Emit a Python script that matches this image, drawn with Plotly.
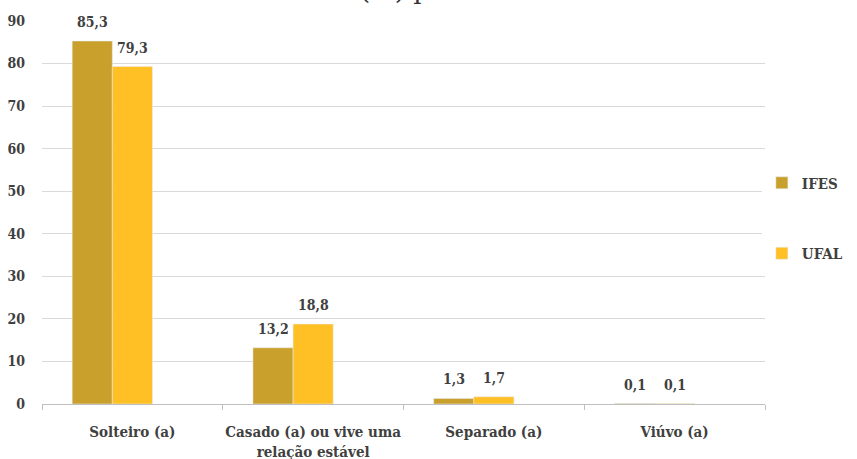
import plotly.graph_objects as go

categories = ["Solteiro (a)", "Casado (a) ou vive uma<br>relação estável", "Separado (a)", "Viúvo (a)"]
ifes = [85.3, 13.2, 1.3, 0.1]
ufal = [79.3, 18.8, 1.7, 0.1]
y_ticks = [0, 10, 20, 30, 40, 50, 60, 70, 80, 90]

FONT = "DejaVu Serif Condensed"
TXT = "#404040"

# bars occupy the left two thirds of each category slot
BAR_W = 0.222

def fmt(v):
    return f"{v:.1f}".replace(".", ",")

fig = go.Figure()
fig.add_trace(go.Bar(
    x=categories, y=ifes, name="IFES", marker_color="#C9A02C",
    width=BAR_W, offset=-0.333, legendgroup="a",
))
fig.add_trace(go.Bar(
    x=categories, y=ufal, name="UFAL", marker_color="#FFC025",
    width=BAR_W, offset=-0.111, legendgroup="b",
))

# value labels above each bar
for series, shift in ((ifes, -40), (ufal, 0)):
    for cat, v in zip(categories, series):
        fig.add_annotation(
            x=cat, y=v, text=fmt(v), showarrow=False,
            xanchor="center", yanchor="bottom", xshift=shift, yshift=9,
            font=dict(family=FONT, size=14, color=TXT, weight="bold"),
        )

fig.update_layout(
    width=857, height=459,
    margin=dict(l=42, r=92, t=21, b=55, autoexpand=False),
    plot_bgcolor="white", paper_bgcolor="white",
    barmode="overlay",
    font=dict(family=FONT, color=TXT),
    showlegend=True,
    legend=dict(xref="container", x=0.889, xanchor="left", y=0.62, yanchor="top",
                tracegroupgap=48,
                font=dict(family=FONT, size=15, color=TXT, weight="bold"),
                itemwidth=30),
    xaxis=dict(
        tickson="boundaries", ticks="outside", ticklen=5, tickcolor="#BFBFBF",
        showline=True, linecolor="#BFBFBF", linewidth=1,
        tickfont=dict(family=FONT, size=15, color=TXT, weight="bold"),
        tickangle=0, ticklabelstandoff=14, automargin=False,
    ),
    yaxis=dict(
        range=[0, 90], tickvals=y_ticks, showgrid=True, gridcolor="#D9D9D9",
        zeroline=False, automargin=False,
        tickfont=dict(family=FONT, size=14, color=TXT, weight="bold"),
        ticklabelstandoff=16,
    ),
)

fig.add_annotation(
    text="(%) p", xref="paper", yref="paper", x=0.437, y=1.0, yshift=14,
    xanchor="left", yanchor="bottom", showarrow=False,
    font=dict(family="DejaVu Serif", size=26, color="#333333"),
)

fig.write_html("out.html")
